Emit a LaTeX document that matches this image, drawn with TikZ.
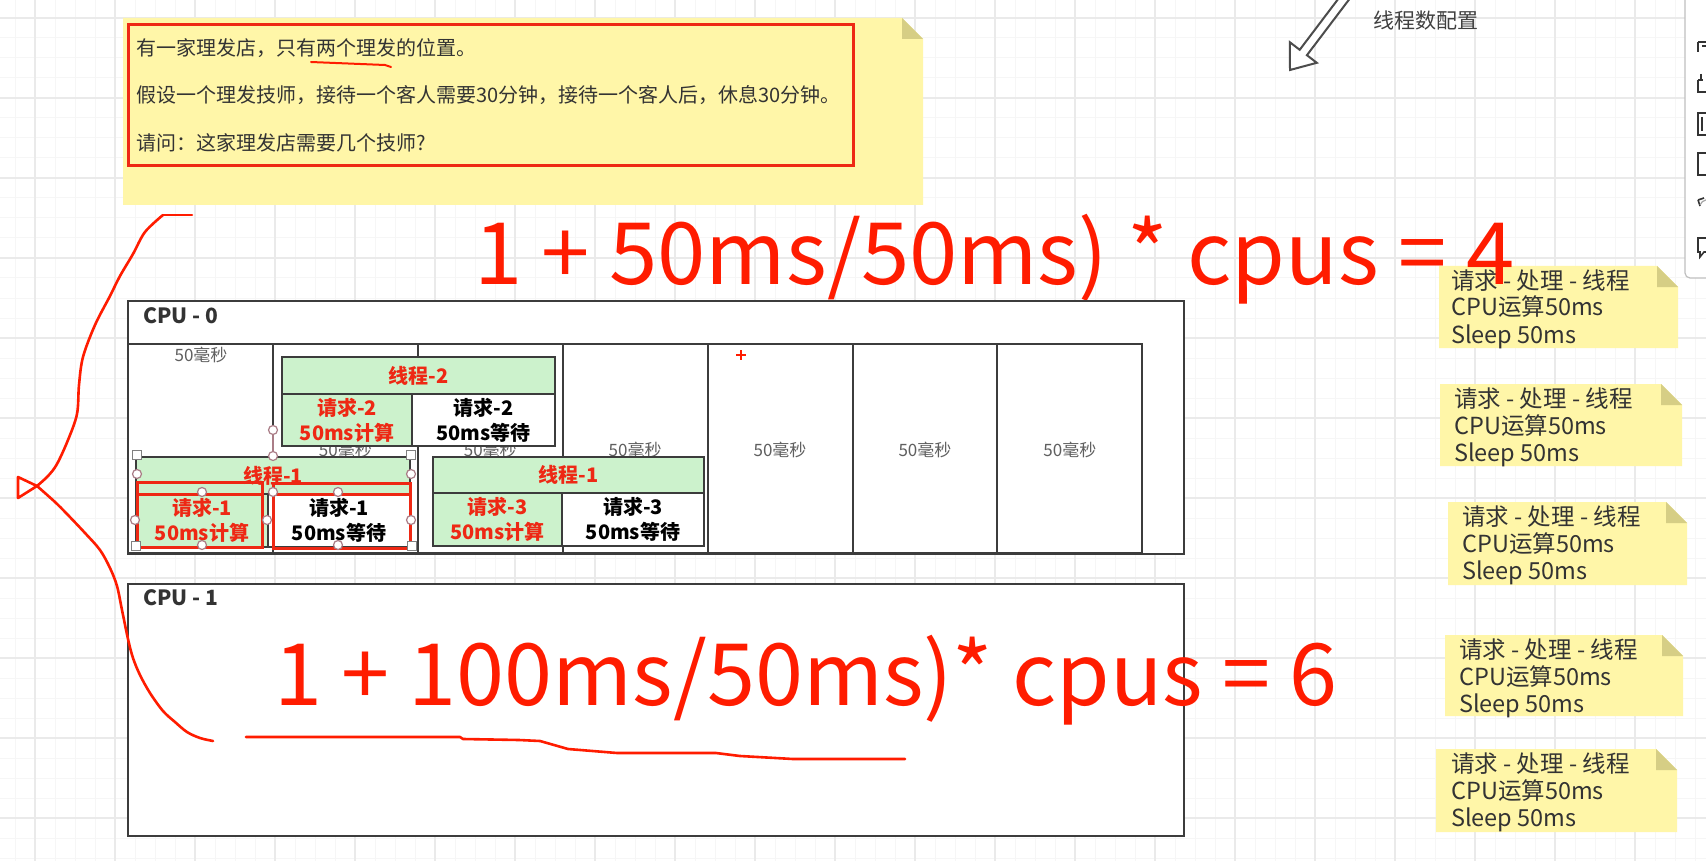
\documentclass[tikz,border=0pt]{standalone}
\usepackage{fontspec}
\setmainfont{Noto Sans CJK SC}
\usetikzlibrary{calc}
\definecolor{notey}{RGB}{255,246,168}
\definecolor{foldc}{RGB}{214,206,133}
\definecolor{gridminor}{RGB}{246,246,246}
\definecolor{gridmajor}{RGB}{234,234,234}
\definecolor{boxline}{RGB}{60,60,60}
\definecolor{thgreen}{RGB}{204,242,204}
\definecolor{txtred}{RGB}{238,40,20}
\definecolor{penred}{RGB}{255,28,0}
\definecolor{txtgray}{RGB}{51,51,51}
\definecolor{lblgray}{RGB}{95,95,95}
\definecolor{handlec}{RGB}{170,125,135}
\newcommand\myfs[2]{\fontsize{#1}{#2}\selectfont}
\newcommand\mynote[4]{%
  \fill[notey] (#1,#2) -- ({#3-21},#2) -- (#3,{#2+21}) -- (#3,#4) -- (#1,#4) -- cycle;
  \fill[foldc] ({#3-21},#2) -- ({#3-21},{#2+21}) -- (#3,{#2+21}) -- cycle;}
\newcommand\threadbox[9]{%
  \fill[thgreen] (#1,#2) rectangle (#3,#4);
  \fill[thgreen] (#1,#4) rectangle (#5,#6);
  \fill[white] (#5,#4) rectangle (#3,#6);
  \draw[thbox] (#1,#2) rectangle (#3,#6);
  \draw[thbox] (#1,#4) -- (#3,#4) (#5,#4) -- (#5,#6);
  \node[thtxt, text=txtred] (#9h) at ({(#1+#3)/2},{(#2+#4)/2}) {#7};
  \node[thtxt, text=txtred] (#9c) at ({(#1+#5)/2},{(#4+#6)/2}) {#8\\50ms计算};
  \node[thtxt, text=black] (#9w) at ({(#5+#3)/2},{(#4+#6)/2}) {#8\\50ms等待};}
\tikzset{
  cpubox/.style={draw=boxline, line width=2.4pt, fill=white},
  colbox/.style={draw=boxline, line width=2pt, fill=white},
  thbox/.style={draw=boxline, line width=2.2pt},
  lbl/.style={text=lblgray, font=\myfs{17}{20}, inner sep=0pt},
  thtxt/.style={font=\bfseries\myfs{20}{25}, align=center, inner sep=0pt},
  cputitle/.style={font=\bfseries\myfs{21}{24}, text=txtgray, inner sep=0pt, anchor=base west},
  notetxt/.style={font=\myfs{23.5}{27}, text=txtgray, inner sep=0pt, anchor=base west},
  toptxt/.style={font=\myfs{20}{24}, text=txtgray, inner sep=0pt, anchor=base west},
  formula/.style={font=\myfs{86}{100}, text=penred, inner sep=0pt, anchor=base west},
  pen/.style={draw=penred, line width=2.6pt, line cap=round, line join=round},
  hl/.style={draw=txtred, line width=3pt},
  handle/.style={draw=handlec, fill=white, line width=1.2pt},
  sqhandle/.style={draw=gray, fill=white, line width=1pt},
  icon/.style={draw=black!80, line width=1.6pt}
}
\begin{document}
\begin{tikzpicture}[x=1pt,y=-1pt]
\useasboundingbox (0,0) rectangle (1706,861);
\clip (0,0) rectangle (1706,861);
\fill[white] (0,0) rectangle (1706,861);
% grid
\foreach \x in {15,35,...,1705} \draw[gridminor, line width=1pt] (\x,0) -- (\x,861);
\foreach \y in {18,38,...,858} \draw[gridminor, line width=1pt] (0,\y) -- (1706,\y);
\foreach \x in {35,115,...,1705} \draw[gridmajor, line width=1.2pt] (\x,0) -- (\x,861);
\foreach \y in {18,98,...,858} \draw[gridmajor, line width=1.2pt] (0,\y) -- (1706,\y);

% top note
\mynote{123}{18}{923}{205}
\draw[draw=txtred, line width=3pt] (128,25) rectangle (853,166);
\node[toptxt] (q1) at (136,55.5) {有一家理发店，只有两个理发的位置。};
\node[toptxt] (q2) at (136,102.5) {假设一个理发技师，接待一个客人需要30分钟，接待一个客人后，休息30分钟。};
\node[toptxt] (q3) at (136,150.5) {请问：这家理发店需要几个技师?};
\draw[pen, line width=2pt] (311,62) -- (385,65) -- (391,67);

% hollow arrow and label
\draw[draw=black!70, fill=white, line width=2pt, line join=miter]
  (1348.0,-14.0) -- (1299.7,49.8) -- (1289.8,42.2) -- (1290,70) -- (1316.8,62.8) -- (1306.9,55.2) -- (1355.2,-8.6) -- cycle;
\node[font=\myfs{21}{24}, text=black!75, inner sep=0pt, anchor=west] (cfg) at (1373,21) {线程数配置};

% toolbar panel
\draw[draw=black!25, fill=white, line width=1.2pt, rounded corners=5pt] (1685,-10) rectangle (1720,278);
\draw[icon] (1698,42) -- (1706,42) (1698,42) -- (1698,52) (1702,46) -- (1706,46);
\draw[icon] (1698,80) -- (1698,92) -- (1708,92) (1698,80) -- (1703,80) (1701,74) -- (1701,80);
\draw[icon] (1698,113) rectangle (1712,135) (1702,117) -- (1702,131);
\draw[icon] (1698,153) rectangle (1712,175);
\draw[icon] (1698,200) -- (1704,198) (1698,200) -- (1700,206);
\draw[draw=black!35, line width=1.2pt] (1700,205) arc (200:300:8);
\draw[icon] (1706,238) -- (1698,238) -- (1698,252) -- (1700,252) -- (1700,257) -- (1704,252) -- (1706,252);

% right notes
\mynote{1439}{266}{1678}{348}
\mynote{1440}{384}{1682}{466}
\mynote{1448}{502}{1687}{585}
\mynote{1445}{635}{1683}{716}
\mynote{1436}{749}{1677}{832}
\foreach \nx/\ny/\k in {1451/266/a,1454/384/b,1462/502/c,1459/635/d,1451/749/e}{
  \node[notetxt] (n\k1) at (\nx,\ny+23) {请求 - 处理 - 线程};
  \node[notetxt] (n\k2) at (\nx,\ny+50) {CPU运算50ms};
  \node[notetxt] (n\k3) at (\nx,\ny+77) {Sleep 50ms};
}

% formula 1
\node[formula] (f1) at (474,284) {\scalebox{1.01}[1]{1 + 50ms/50ms) * cpus = 4}};

% CPU-0
\draw[cpubox] (128,301) rectangle (1184,554);
\node[cputitle] (c0) at (143,323) {CPU - 0};
\foreach \i in {0,...,6} \draw[colbox] ({128+144.9*\i},344) rectangle ({128+144.9*(\i+1)},553);
\node[lbl] (l1) at (201,355) {50毫秒};
\foreach \i in {1,...,6} \node[lbl] (l\i x) at ({128+144.9*\i+72.45},450) {50毫秒};

% threads
\threadbox{282}{357}{555}{394}{412}{446}{线程-2}{请求-2}{ta}
\threadbox{136}{457}{410}{494}{268}{547}{线程-1}{请求-1}{tb}
\threadbox{433}{457}{704}{493}{562}{546}{线程-1}{请求-3}{tc}

% selection highlight
\draw[hl] (137,482) rectangle (262,547); \draw[hl] (137,494) -- (262,494);
\draw[hl] (273,483) rectangle (410,548); \draw[hl] (273,494) -- (410,494);
\draw[draw=handlec, line width=1.5pt] (273,430) -- (273,456);
\foreach \px/\py in {273/430,273/456,137/474,411/474,135/520,267/520,411/520,202/492,338/492,273/492,202/545,338/545}
  \draw[handle] (\px,\py) circle (4.5);
\foreach \px/\py in {137/455,411/455,136/546,412/546}
  \draw[sqhandle] (\px-4.5,\py-4.5) rectangle (\px+4.5,\py+4.5);

% red cross
\draw[draw=penred, line width=1.8pt] (736,355) -- (746,355) (741,350) -- (741,360);

% CPU-1
\draw[cpubox] (128,584) rectangle (1184,836);
\node[cputitle] (c1) at (143,605) {CPU - 1};
\node[formula] (f2) at (274,705) {\scalebox{1.005}[1]{1 + 100ms/50ms)* cpus = 6}};

% hand drawn strokes
\draw[pen] (192,215) -- (163,215);
\draw[pen] plot[smooth, tension=0.55] coordinates {(163,215) (145,232) (133,254) (120,276) (110,296) (95,325) (83,357) (79,385) (77,414) (68,440) (57,464) (48,476) (37,486)};
\draw[pen] (37,486) -- (18,477) -- (18,498) -- (37,486);
\draw[pen] plot[smooth, tension=0.55] coordinates {(37,486) (55,502) (67,514) (85,533) (100,550) (110,568) (117,586) (122,610) (128,639) (133,658) (140,675) (150,693) (163,711) (175,722) (187,732) (200,738) (213,741)};
\draw[pen] (246,737) -- (460,737) -- (463,739) -- (519,740) -- (540,741) -- (568,749) -- (617,753) -- (716,753) -- (740,756) -- (793,759) -- (905,759);
\end{tikzpicture}
\end{document}
